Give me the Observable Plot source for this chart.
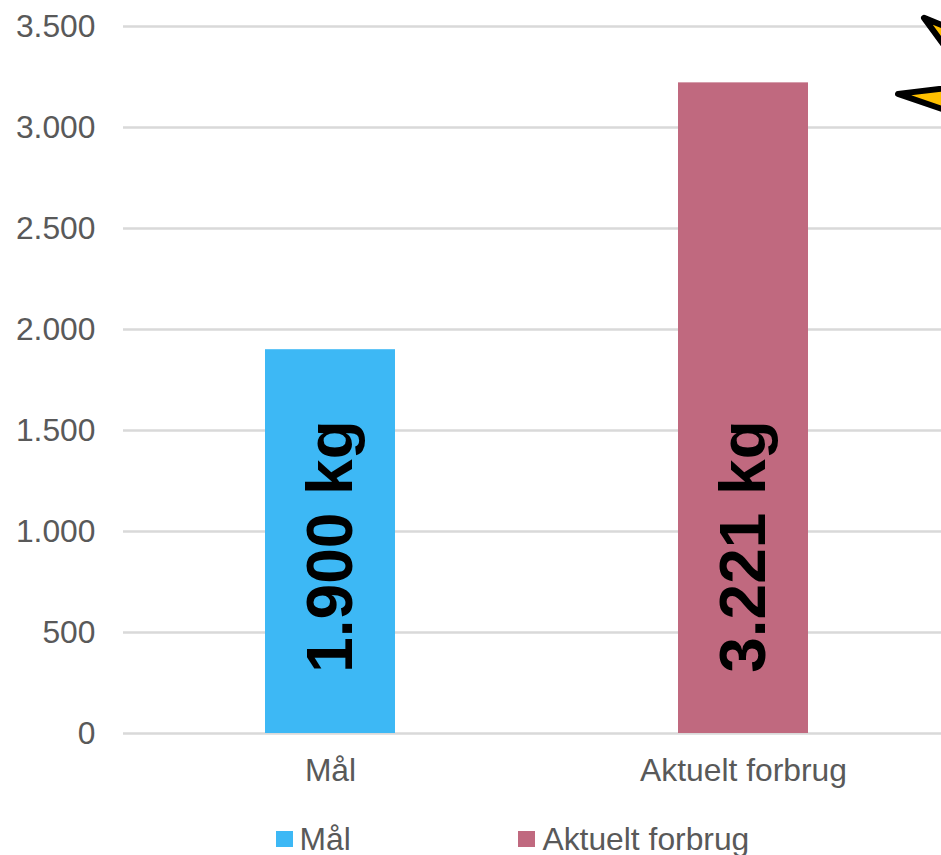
<!DOCTYPE html>
<html lang="da">
<head>
<meta charset="utf-8">
<script src="https://cdn.jsdelivr.net/npm/d3@7"></script>
<script src="https://cdn.jsdelivr.net/npm/@observablehq/plot@0.6"></script>
<style>
html,body{margin:0;padding:0;background:#fff;overflow:hidden;width:941px;height:855px}
#chart svg{display:block}
#legend{position:absolute;left:0;top:0;width:941px;height:855px;font:31.8px "Liberation Sans",Arial,sans-serif;color:#595959;pointer-events:none}
#legend span{position:absolute;white-space:nowrap;line-height:30px}
#legend i{position:absolute;display:block;width:17px;height:16px}
</style>
</head>
<body>
<div id="chart"></div>
<div id="legend"></div>
<script>
const categories = ["Mål", "Aktuelt forbrug"];
const values = [1900, 3221];
const barColors = ["#3DB8F5", "#C0697F"];
const valueLabels = ["1.900 kg", "3.221 kg"];
const yTicks = [0, 500, 1000, 1500, 2000, 2500, 3000, 3500];
const yTickLabels = ["0", "500", "1.000", "1.500", "2.000", "2.500", "3.000", "3.500"];
const burstAnchor = [{category: "Aktuelt forbrug", value: 3221}];

const rows = categories.map((c, i) => ({c, v: values[i], color: barColors[i], label: valueLabels[i]}));

// Decorative burst that the original crops at the right edge; outline relative to its anchor.
const burstOutline = [[0, 0], [75, -9], [26, -76], [90, -50], [90, 31], [0, 0]];
const burstSymbol = {
  draw(ctx) {
    burstOutline.forEach(([a, b], i) => i ? ctx.lineTo(a, b) : ctx.moveTo(a, b));
    ctx.closePath();
  }
};

const fontFamily = '"Liberation Sans", Arial, sans-serif';

const chart = Plot.plot({
  width: 941,
  height: 815,
  marginLeft: 123,
  marginRight: 0,
  marginTop: 26,
  marginBottom: 82,
  style: {fontFamily, fontSize: "31.8px", background: "#fff", overflow: "hidden"},
  x: {type: "band", domain: categories, range: [123.5, 949.5], paddingInner: 0.685, paddingOuter: 0.3425, align: 0.5, label: null},
  y: {domain: [0, 3500], label: null},
  marks: [
    Plot.ruleY(yTicks, {stroke: "#D9D9D9", strokeWidth: 2.5, strokeOpacity: 1}),
    Plot.barY(rows, {x: "c", y: "v", fill: "color"}),
    Plot.text(rows, {
      x: "c", y: () => 0, text: "label", rotate: -90, textAnchor: "middle",
      dx: 1, dy: -187, fontWeight: "bold", fontSize: 64, fill: "#000"
    }),
    Plot.dot(burstAnchor, {
      x: "category", y: "value", symbol: burstSymbol, r: 5,
      dx: 154.5, dy: 11,
      fill: "#FFC000", stroke: "#000", strokeWidth: 6, strokeLinejoin: "round"
    }),
    Plot.axisY({
      ticks: yTicks, tickSize: 0, tickPadding: 28, label: null, fill: "#595959",
      tickFormat: d => yTickLabels[yTicks.indexOf(d)]
    }),
    Plot.axisX({tickSize: 0, tickPadding: 25, label: null, fill: "#595959"})
  ]
});
document.getElementById("chart").append(chart);

const legend = document.getElementById("legend");
const legendPos = [{sx: 276, tx: 299.5}, {sx: 518, tx: 542.5}];
categories.forEach((c, i) => {
  const sw = document.createElement("i");
  sw.style.cssText = `left:${legendPos[i].sx}px;top:831px;background:${barColors[i]}`;
  const t = document.createElement("span");
  t.textContent = c;
  t.style.cssText = `left:${legendPos[i].tx}px;top:824px`;
  legend.append(sw, t);
});
</script>
</body>
</html>
